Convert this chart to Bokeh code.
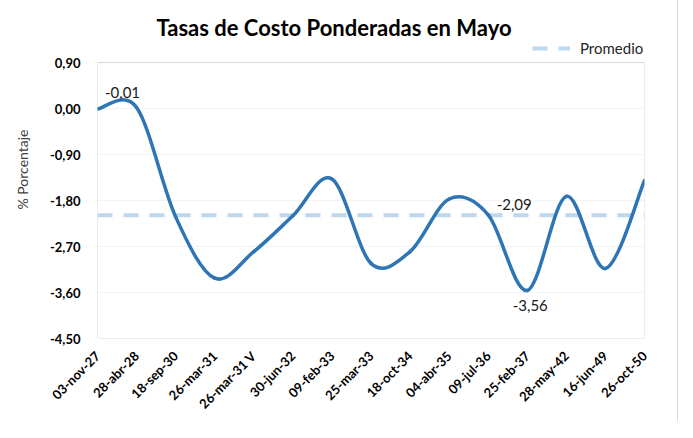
import math
from bokeh.plotting import figure
from bokeh.models import Range1d, FixedTicker, Legend, LegendItem, ColumnDataSource
from bokeh.core.properties import value
from bokeh.embed import file_html
from bokeh.resources import INLINE

# ---- data ----
titulo = "Tasas de Costo Ponderadas en Mayo"
fechas = ["03-nov-27", "28-abr-28", "18-sep-30", "26-mar-31", "26-mar-31 V",
          "30-jun-32", "09-feb-33", "25-mar-33", "18-oct-34", "04-abr-35",
          "09-jul-36", "25-feb-37", "28-may-42", "16-jun-49", "26-oct-50"]
valores = [-0.01, 0.02, -2.12, -3.32, -2.80, -2.10, -1.38, -3.03, -2.80, -1.77,
           -2.08, -3.56, -1.72, -3.13, -1.41]
promedio = -2.09
yticks = [0.9, 0.0, -0.9, -1.8, -2.7, -3.6, -4.5]
ylabels = ["0,90", "0,00", "-0,90", "-1,80", "-2,70", "-3,60", "-4,50"]
etiquetas_idx = [0, 10, 11]
etiquetas_txt = ["-0,01", "-2,09", "-3,56"]
etiquetas_serie = ["valores", "promedio", "valores"]

# ---- styles / layout ----
FONT = "Lato"
LINE_COLOR = "#2E75B6"
AVG_COLOR = "#BDD7EE"
label_dx = [25, 26, 3]
label_dy = [-17, -11, 15]
W, H = 677, 422
LEFT, RIGHT, BOTTOM = 97, 33, 84
TOP_PAD = 62                       # px between canvas top and the plot area
PLOT_H = H - BOTTOM - TOP_PAD      # px height of the value area

n = len(valores)
xs = list(range(n))
ymin, ymax = min(yticks), max(yticks)
ytop = ymax + TOP_PAD * (ymax - ymin) / PLOT_H   # frame extends up over title/legend

p = figure(width=W, height=H, output_backend="svg", toolbar_location=None,
           x_range=Range1d(0, n - 1), y_range=Range1d(ymin, ytop),
           min_border_left=LEFT, min_border_right=RIGHT, min_border_top=0,
           min_border_bottom=BOTTOM)
p.title.visible = False
p.styles = {"box-shadow": "-1px -1px 0 0 #d9d9d9, 1px -1px 0 0 #d9d9d9"}

p.background_fill_color = "white"
p.border_fill_color = "white"
p.outline_line_color = None

p.xgrid.visible = False
p.ygrid.grid_line_color = "#F3F3F3"
p.ygrid.grid_line_width = 1

p.xaxis.ticker = FixedTicker(ticks=xs)
p.xaxis.major_label_overrides = {i: f for i, f in enumerate(fechas)}
p.xaxis.major_label_orientation = math.pi / 4
p.xaxis.major_label_standoff = 9
p.yaxis.ticker = FixedTicker(ticks=yticks)
p.yaxis.major_label_overrides = dict(zip(yticks, ylabels))
p.yaxis.major_label_standoff = 11
p.yaxis.axis_label = "% Porcentaje"
p.yaxis.axis_label_text_font = FONT
p.yaxis.axis_label_text_font_size = "14px"
p.yaxis.axis_label_text_font_style = "normal"
p.yaxis.axis_label_text_color = "#404040"
p.yaxis.axis_label_standoff = 16
for ax in (p.xaxis[0], p.yaxis[0]):
    ax.axis_line_color = None
    ax.major_tick_line_color = None
    ax.minor_tick_line_color = None
    ax.major_label_text_font = FONT
    ax.major_label_text_font_size = "13px"
    ax.major_label_text_font_style = "bold"
    ax.major_label_text_color = "#000000"

# plot-area border (value area only)
p.quad(left=[xs[0]], right=[xs[-1]], bottom=[ymin], top=[ymax],
       fill_alpha=0, line_color="#D9D9D9", line_width=1)

# average line
avg = p.line(xs, [promedio] * n, line_color=AVG_COLOR, line_width=4,
             line_dash="15 11")

# smoothed series (Catmull-Rom style bezier segments through the data points)
def pt(i):
    i = max(0, min(n - 1, i))
    return xs[i], valores[i]

bx0, by0, bx1, by1, bcx0, bcy0, bcx1, bcy1 = [], [], [], [], [], [], [], []
for i in range(n - 1):
    xa, ya = pt(i - 1)
    x0, y0 = pt(i)
    x1, y1 = pt(i + 1)
    xb, yb = pt(i + 2)
    bx0.append(x0); by0.append(y0); bx1.append(x1); by1.append(y1)
    bcx0.append(x0 + (x1 - xa) / 6.0); bcy0.append(y0 + (y1 - ya) / 6.0)
    bcx1.append(x1 - (xb - x0) / 6.0); bcy1.append(y1 - (yb - y0) / 6.0)

p.bezier(x0=bx0, y0=by0, x1=bx1, y1=by1, cx0=bcx0, cy0=bcy0, cx1=bcx1, cy1=bcy1,
         line_color=LINE_COLOR, line_width=3.5, line_cap="round")

# data labels
lab_y = [valores[i] if s == "valores" else promedio
         for i, s in zip(etiquetas_idx, etiquetas_serie)]
src = ColumnDataSource(dict(x=etiquetas_idx, y=lab_y, t=etiquetas_txt,
                            dx=label_dx, dy=label_dy))
p.text(x="x", y="y", text="t", x_offset="dx", y_offset="dy", source=src,
       text_align="center", text_baseline="middle", text_font=value(FONT),
       text_font_size="15px", text_color="#1a1a1a")

# chart title, drawn at the top of the canvas
p.text(x=[(n - 1) / 2], y=[ytop], text=[titulo], x_offset=-37, y_offset=27,
       text_align="center", text_baseline="alphabetic", text_font=value(FONT),
       text_font_size="22px", text_font_style="bold", text_color="#000000")

legend = Legend(items=[LegendItem(label="Promedio", renderers=[avg])],
                location=(435, PLOT_H + 5), orientation="horizontal", padding=0,
                margin=0, spacing=0, border_line_color=None,
                background_fill_alpha=0, glyph_width=38, glyph_height=16,
                label_standoff=10, label_text_font=FONT,
                label_text_font_size="15px", label_text_color="#262626")
p.add_layout(legend)

open("out.html", "w").write(file_html(p, INLINE))
